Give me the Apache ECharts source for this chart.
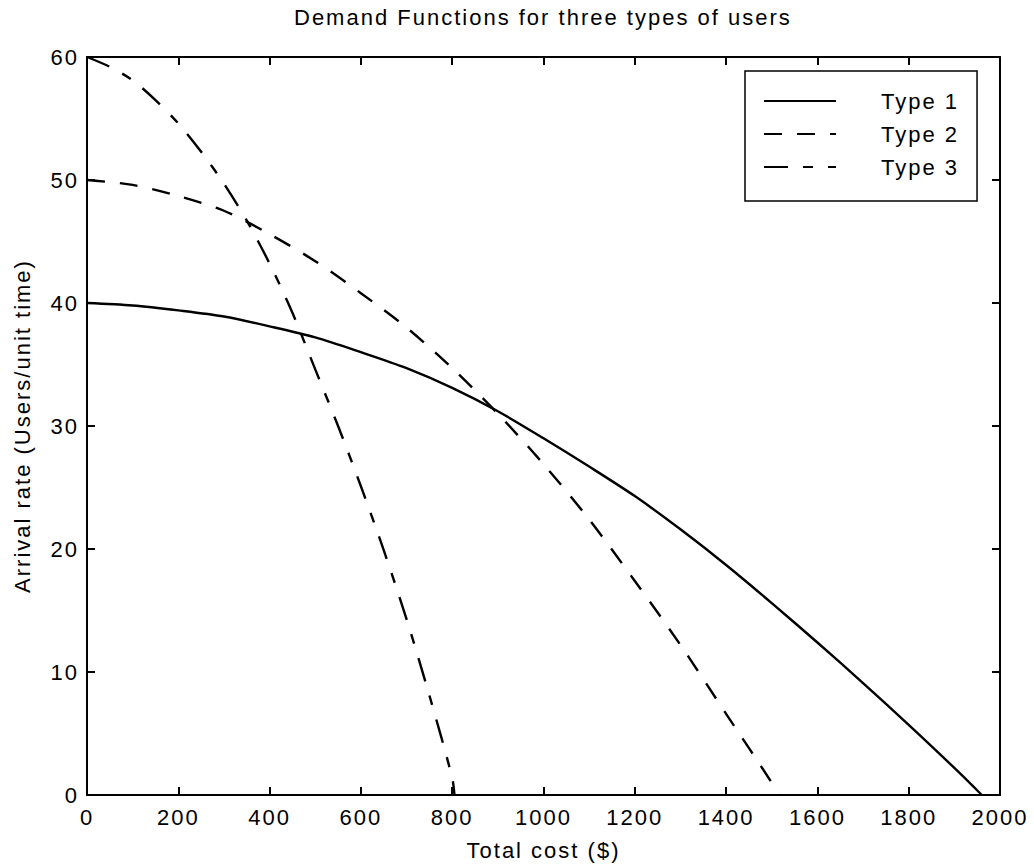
<!DOCTYPE html>
<html>
<head>
<meta charset="utf-8">
<script src="https://cdn.jsdelivr.net/npm/echarts@6/dist/echarts.min.js"></script>
<style>
  html, body { margin: 0; padding: 0; background: #fff; }
  #chart { width: 1034px; height: 867px; }
  /* the scanned figure uses widely spaced Helvetica */
  #chart text { letter-spacing: 2px; }
</style>
</head>
<body>
<div id="chart"></div>
<script>
// values
var type1Cost = [0, 100, 200, 300, 400, 500, 600, 700, 800, 900, 1000, 1100, 1200, 1300, 1400, 1500, 1600, 1700, 1800, 1900, 1960];
var type1Rate = [40, 39.8, 39.4, 38.9, 38.1, 37.2, 36.0, 34.7, 33.1, 31.2, 29.0, 26.7, 24.3, 21.6, 18.7, 15.6, 12.4, 9.1, 5.7, 2.2, 0];

var type2Cost = [0, 100, 200, 300, 400, 500, 600, 700, 800, 900, 1000, 1100, 1200, 1300, 1400, 1500, 1515];
var type2Rate = [50, 49.6, 48.7, 47.5, 45.6, 43.4, 40.8, 38.0, 34.7, 31.0, 26.9, 22.4, 17.4, 12.2, 6.6, 1.0, 0];

var type3Cost = [0, 50, 100, 150, 200, 250, 300, 350, 400, 450, 500, 550, 600, 650, 700, 750, 800, 805];
var type3Rate = [60, 59.2, 58.1, 56.5, 54.6, 52.3, 49.7, 46.7, 43.2, 39.2, 34.6, 30.0, 25.1, 19.9, 14.3, 8.1, 1.4, 0];

var seriesNames = ['Type 1', 'Type 2', 'Type 3'];

function pairs(xs, ys) {
    return xs.map(function (x, i) { return [x, ys[i]]; });
}

var font = 'Liberation Sans';
var axisLine = { show: true, onZero: false, lineStyle: { color: '#000', width: 2 } };
var tickIn = { show: true, inside: true, length: 8, lineStyle: { color: '#000', width: 2 } };
var plain = function (v) { return String(v); };

var myChart = echarts.init(document.getElementById('chart'), null, { renderer: 'svg' });

myChart.setOption({
    animation: false,
    backgroundColor: '#fff',
    textStyle: { fontFamily: font, color: '#000' },
    title: {
        text: 'Demand Functions for three types of users',
        left: 289,
        top: 1,
        textStyle: { fontFamily: font, fontSize: 22, fontWeight: 'normal', color: '#000' }
    },
    legend: {
        data: seriesNames,
        orient: 'vertical',
        left: 745,
        top: 71,
        padding: [19, 30, 23, 18],
        itemWidth: 72,
        itemHeight: 20,
        itemGap: 11,
        selectedMode: false,
        backgroundColor: '#fff',
        borderColor: '#000',
        borderWidth: 1.5,
        itemStyle: { opacity: 0 },
        textStyle: { fontFamily: font, fontSize: 22, color: '#000', padding: [0, 0, 0, 40] }
    },
    grid: { left: 87, right: 34, top: 57, bottom: 72 },
    xAxis: [{
        type: 'value',
        min: 0, max: 2000, interval: 200,
        name: 'Total cost ($)',
        nameLocation: 'middle',
        nameGap: 44,
        nameTextStyle: { fontFamily: font, fontSize: 22, color: '#000' },
        axisLine: axisLine,
        axisTick: tickIn,
        axisLabel: { fontFamily: font, fontSize: 22, color: '#000', margin: 11, formatter: plain },
        splitLine: { show: false }
    }, {
        type: 'value',
        position: 'top',
        min: 0, max: 2000, interval: 200,
        axisLine: axisLine,
        axisTick: tickIn,
        axisLabel: { show: false },
        splitLine: { show: false }
    }],
    yAxis: [{
        type: 'value',
        min: 0, max: 60, interval: 10,
        name: 'Arrival rate (Users/unit time)',
        nameLocation: 'middle',
        nameGap: 54,
        nameTextStyle: { fontFamily: font, fontSize: 22, color: '#000' },
        axisLine: axisLine,
        axisTick: tickIn,
        axisLabel: { fontFamily: font, fontSize: 22, color: '#000', margin: 8, formatter: plain },
        splitLine: { show: false }
    }, {
        type: 'value',
        position: 'right',
        min: 0, max: 60, interval: 10,
        axisLine: axisLine,
        axisTick: tickIn,
        axisLabel: { show: false },
        splitLine: { show: false }
    }],
    series: [{
        name: seriesNames[0],
        type: 'line',
        data: pairs(type1Cost, type1Rate),
        smooth: 0.3,
        symbol: 'none',
        lineStyle: { color: '#000', width: 2.4, type: 'solid' },
        itemStyle: { color: '#000' }
    }, {
        name: seriesNames[1],
        type: 'line',
        data: pairs(type2Cost, type2Rate),
        smooth: 0.3,
        symbol: 'none',
        lineStyle: { color: '#000', width: 2.4, type: [18, 15] },
        itemStyle: { color: '#000' }
    }, {
        name: seriesNames[2],
        type: 'line',
        data: pairs(type3Cost, type3Rate),
        smooth: 0.3,
        symbol: 'none',
        lineStyle: { color: '#000', width: 2.4, type: [24, 15, 10, 15] },
        itemStyle: { color: '#000' }
    }]
});
</script>
</body>
</html>
